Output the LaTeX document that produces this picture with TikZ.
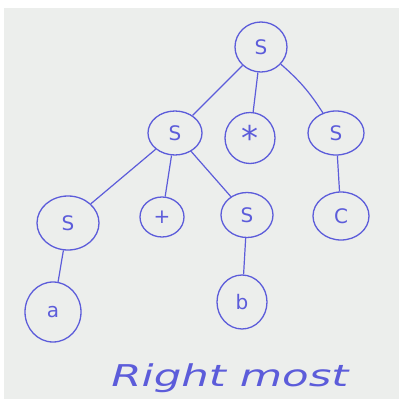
\documentclass[tikz,border=0pt]{standalone}
\usepackage{fontspec}
\setsansfont{DejaVu Sans}
\usetikzlibrary{shapes.geometric}
\definecolor{paper}{RGB}{236,238,236}
\definecolor{ink}{RGB}{92,92,218}
\tikzset{
  tn/.style={ellipse, draw=ink, line width=1.3pt, text=ink, inner sep=0pt,
    font=\sffamily\fontsize{20}{20}\selectfont},
  edge/.style={draw=ink, line width=1.2pt}
}
\begin{document}
\begin{tikzpicture}[x=1pt,y=-1pt]
\useasboundingbox (0,0) rectangle (399,399);
\fill[white] (0,0) rectangle (399,399);
\fill[paper] (4,8) rectangle (399,399);
% nodes
\node[tn, minimum width=52pt, minimum height=50pt] (r) at (261,47) {S};
\node[tn, minimum width=54pt, minimum height=44pt] (s1) at (175,133) {S};
\node[tn, minimum width=50pt, minimum height=51pt, font=\sffamily\fontsize{34}{34}\selectfont] (st) at (250,138) {\raisebox{-8pt}{*}};
\node[tn, minimum width=56pt, minimum height=44pt] (s2) at (336,133) {S};
\node[tn, minimum width=62pt, minimum height=54pt] (s3) at (68,223) {S};
\node[tn, minimum width=44pt, minimum height=40pt] (pl) at (162,217) {+};
\node[tn, minimum width=52pt, minimum height=45pt] (s4) at (247,215) {S};
\node[tn, minimum width=56pt, minimum height=48pt] (c) at (341,216) {C};
\node[tn, minimum width=56pt, minimum height=60pt] (a) at (53,312) {a};
\node[tn, minimum width=50pt, minimum height=54pt] (b) at (242,302) {b};
% edges
\draw[edge] (r) -- (s1);
\draw[edge] (r) -- (st);
\draw[edge] (r) to[bend left=8] (s2);
\draw[edge] (s1) -- (s3);
\draw[edge] (s1) -- (pl);
\draw[edge] (s1) -- (s4);
\draw[edge] (s2) -- (c);
\draw[edge] (s3) -- (a);
\draw[edge] (s4) -- (b);
% caption
\node[text=ink, font=\sffamily\itshape\fontsize{30}{30}\selectfont, xscale=1.45, inner sep=0pt] (cap) at (230,378) {Right most};
\end{tikzpicture}
\end{document}
